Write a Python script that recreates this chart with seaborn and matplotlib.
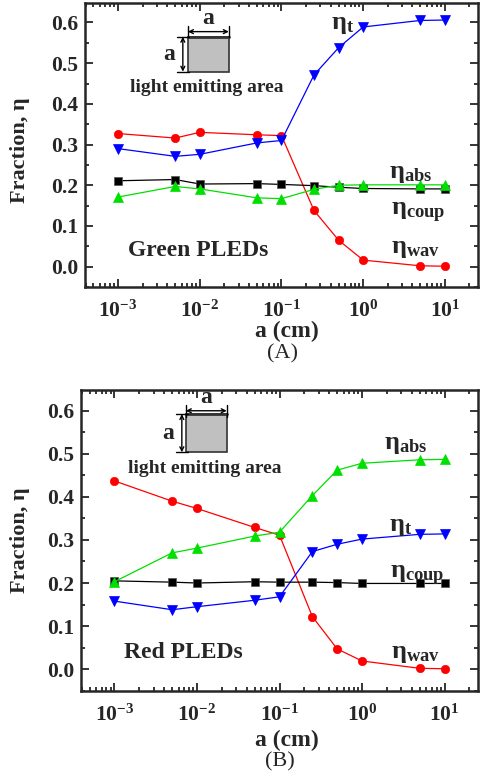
import matplotlib
matplotlib.use("Agg")
import matplotlib.pyplot as plt
from matplotlib.ticker import MultipleLocator, LogLocator, FuncFormatter, NullFormatter
import numpy as np
import pandas as pd
import seaborn as sns

# ── data ───────────────────────────────────────────────────────────────────
size_cm = [1e-3, 5e-3, 1e-2, 5e-2, 1e-1, 0.25, 0.5, 1.0, 5.0, 10.0]

green_wav = [0.327, 0.316, 0.330, 0.324, 0.322, 0.138, 0.065, 0.016, 0.002, 0.001]
green_t = [0.290, 0.271, 0.276, 0.304, 0.310, 0.471, 0.538, 0.589, 0.605, 0.606]
green_coup = [0.211, 0.214, 0.203, 0.204, 0.202, 0.199, 0.195, 0.192, 0.191, 0.191]
green_abs = [0.171, 0.197, 0.191, 0.169, 0.167, 0.190, 0.200, 0.201, 0.201, 0.201]

red_wav = [0.437, 0.390, 0.373, 0.329, 0.311, 0.122, 0.047, 0.019, 0.002, 0.001]
red_abs = [0.203, 0.270, 0.281, 0.309, 0.318, 0.403, 0.462, 0.478, 0.486, 0.487]
red_t = [0.158, 0.138, 0.145, 0.160, 0.168, 0.273, 0.290, 0.302, 0.313, 0.314]
red_coup = [0.205, 0.202, 0.200, 0.203, 0.202, 0.202, 0.201, 0.199, 0.199, 0.199]

series_names = ["wav", "t", "coup", "abs"]
palette = {"wav": "#ff0000", "t": "#0000ff", "coup": "#000000", "abs": "#00e000"}
markers = {"wav": "o", "t": "v", "coup": "s", "abs": "^"}
msizes = {"wav": 6.0, "t": 6.8, "coup": 5.6, "abs": 6.8}

sns.set_style("ticks")
plt.rcParams["font.family"] = ["Liberation Serif", "DejaVu Serif"]
plt.rcParams["font.weight"] = "bold"
plt.rcParams["mathtext.fontset"] = "custom"
plt.rcParams["mathtext.rm"] = "Liberation Serif"
plt.rcParams["mathtext.it"] = "Liberation Serif:italic"
plt.rcParams["mathtext.bf"] = "Liberation Serif:bold"


def long_frame(values):
    rows = []
    for name, vals in zip(series_names, values):
        for x, y in zip(size_cm, vals):
            rows.append({"a": x, "eta": y, "series": name})
    return pd.DataFrame(rows)


def draw_panel(ax, df, inset, labels, title):
    for name in series_names:
        sub = df[df["series"] == name]
        sns.lineplot(data=sub, x="a", y="eta", color=palette[name],
                     marker=markers[name], markersize=msizes[name],
                     markeredgewidth=0.5,
                     markeredgecolor="#555555" if name == "coup" else palette[name],
                     linewidth=0.9, legend=False, ax=ax)
    ax.set_xscale("log")
    ax.set_xlim(10 ** -3.405, 10 ** 1.405)
    ax.set_ylim(-0.05, 0.648)
    ax.set_xlabel("")
    ax.set_ylabel("")

    ax.xaxis.set_major_locator(LogLocator(base=10, numticks=10))
    ax.xaxis.set_minor_locator(LogLocator(base=10, subs=np.arange(2, 10), numticks=20))
    ax.xaxis.set_minor_formatter(NullFormatter())
    ax.xaxis.set_major_formatter(FuncFormatter(
        lambda v, p: r"$\mathbf{10^{%d}}$" % round(np.log10(v))))
    ax.yaxis.set_major_locator(MultipleLocator(0.1))
    ax.yaxis.set_minor_locator(MultipleLocator(0.05))
    ax.yaxis.set_major_formatter(FuncFormatter(lambda v, p: f"{v:.1f}"))

    ax.tick_params(which="both", direction="in", top=True, right=True, width=1.3)
    ax.tick_params(which="major", length=6, pad=5)
    ax.tick_params(axis="y", which="major", labelsize=15.5)
    ax.tick_params(axis="x", which="major", labelsize=15.5, pad=10)
    ax.tick_params(which="minor", length=3)
    for lab in ax.get_yticklabels():
        lab.set_fontweight("bold")
    for s in ax.spines.values():
        s.set_linewidth(1.8)
        s.set_visible(True)

    # inset sketch of the square light emitting area
    bx0, bx1, by0, by1, ay, vx = inset
    ax.add_patch(plt.Rectangle((bx0, by0), bx1 - bx0, by1 - by0, transform=ax.transAxes,
                               facecolor="#c0c0c0", edgecolor="#333333", linewidth=1.2))
    ax.plot([bx0, bx1], [by1, by1], transform=ax.transAxes, color="#333333", lw=2)
    ax.annotate("", xy=(bx0, ay), xytext=(bx1, ay), xycoords="axes fraction",
                arrowprops=dict(arrowstyle="<->", lw=1, color="black",
                                shrinkA=0, shrinkB=0, mutation_scale=7))
    ax.annotate("", xy=(vx, by0), xytext=(vx, by1), xycoords="axes fraction",
                arrowprops=dict(arrowstyle="<->", lw=1, color="black",
                                shrinkA=0, shrinkB=0, mutation_scale=7))
    ax.plot([bx0, bx0], [ay - 0.02, ay + 0.02], transform=ax.transAxes, color="black", lw=1)
    ax.plot([bx1, bx1], [ay - 0.02, ay + 0.02], transform=ax.transAxes, color="black", lw=1)
    ax.plot([vx - 0.015, vx + 0.015], [by1, by1], transform=ax.transAxes, color="black", lw=1)
    ax.plot([vx - 0.015, vx + 0.015], [by0, by0], transform=ax.transAxes, color="black", lw=1)
    ax.text((bx0 + bx1) / 2, ay + 0.008, "a", transform=ax.transAxes, ha="center",
            va="bottom", fontsize=17, fontweight="bold")
    ax.text(vx - 0.02, (by0 + by1) / 2, "a", transform=ax.transAxes, ha="right",
            va="center", fontsize=17, fontweight="bold")
    ax.text((bx0 + bx1) / 2 - 0.005, by0 - 0.055, "light emitting area",
            transform=ax.transAxes, ha="center", va="center", fontsize=14,
            fontweight="bold")

    for txt, (x, y) in labels.items():
        ax.text(x, y, txt, transform=ax.transAxes, ha="center", va="center", fontsize=19)
    ax.text(title[1], title[2], title[0], transform=ax.transAxes, ha="center",
            va="center", fontsize=17, fontweight="bold")


fig = plt.figure(figsize=(4.81, 7.76), dpi=100)
ax1 = fig.add_axes([0.1767, 0.6302, 0.817, 0.366])
ax2 = fig.add_axes([0.1684, 0.1099, 0.8254, 0.3875])

draw_panel(ax1, long_frame([green_wav, green_t, green_coup, green_abs]),
           (0.262, 0.366, 0.758, 0.881, 0.899, 0.249),
           {r"$\mathbf{\eta}_{\mathbf{t}}$": (0.655, 0.925),
            r"$\mathbf{\eta}_{\mathbf{abs}}$": (0.830, 0.400),
            r"$\mathbf{\eta}_{\mathbf{coup}}$": (0.848, 0.262),
            r"$\mathbf{\eta}_{\mathbf{wav}}$": (0.842, 0.136)},
           ("Green PLEDs", 0.288, 0.130))
draw_panel(ax2, long_frame([red_wav, red_t, red_coup, red_abs]),
           (0.264, 0.367, 0.793, 0.920, 0.931, 0.254),
           {r"$\mathbf{\eta}_{\mathbf{abs}}$": (0.818, 0.818),
            r"$\mathbf{\eta}_{\mathbf{t}}$": (0.805, 0.547),
            r"$\mathbf{\eta}_{\mathbf{coup}}$": (0.848, 0.382),
            r"$\mathbf{\eta}_{\mathbf{wav}}$": (0.842, 0.124)},
           ("Red PLEDs", 0.258, 0.126))

for ycen in [150, 540]:
    fig.text(20 / 481, 1 - ycen / 776, "Fraction, η", rotation=90, ha="center",
             va="center", fontsize=16, fontweight="bold")
fig.text(286.7 / 481, 1 - 331.7 / 776, "a (cm)", ha="center", va="center",
         fontsize=17, fontweight="bold")
fig.text(283 / 481, 1 - 354 / 776, "(A)", ha="center", va="center",
         fontsize=16, fontweight="normal")
fig.text(286.7 / 481, 1 - 740 / 776, "a (cm)", ha="center", va="center",
         fontsize=17, fontweight="bold")
fig.text(280 / 481, 1 - 762 / 776, "(B)", ha="center", va="center",
         fontsize=16, fontweight="normal")

fig.savefig("out.png", dpi=100)
